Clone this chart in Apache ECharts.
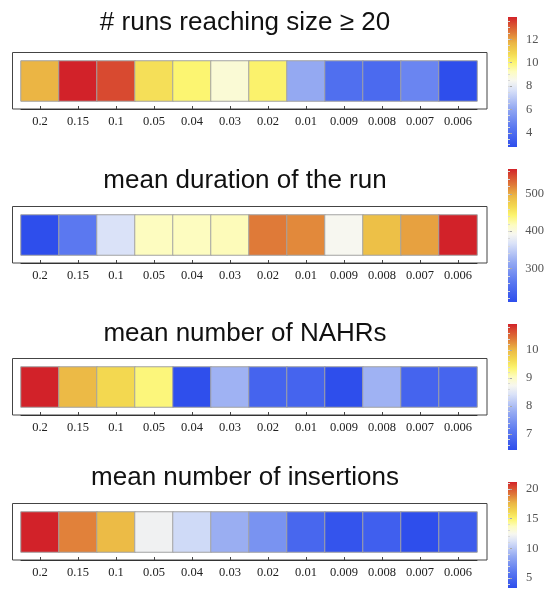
<!DOCTYPE html>
<html>
<head>
<meta charset="utf-8">
<script src="https://cdn.jsdelivr.net/npm/echarts@6/dist/echarts.min.js"></script>
<style>
  html, body { margin: 0; padding: 0; background: #fff; }
  #chart { width: 547px; height: 590px; }
</style>
</head>
<body>
<div id="chart"></div>
<script>
// Mutation-rate categories along the x axis
const categories = ['0.2', '0.15', '0.1', '0.05', '0.04', '0.03', '0.02', '0.01', '0.009', '0.008', '0.007', '0.006'];

// One row of values per panel
const runsReaching   = [11.7, 13.9, 13.35, 10.6, 10.0, 8.9, 10.1, 6.1, 4.1, 3.9, 4.9, 2.8];
const meanDuration   = [210, 264, 367, 417, 417, 419, 524, 517, 392, 488, 506, 567];
const meanNAHRs      = [10.93, 9.99, 9.67, 9.31, 6.45, 7.87, 6.79, 6.79, 6.43, 7.87, 6.79, 6.81];
const meanInsertions = [21.2, 18.9, 17.4, 12.1, 10.8, 8.85, 7.4, 4.9, 3.66, 4.4, 3.3, 4.2];

// Colour-bar tick labels
const ticksRuns       = [4, 6, 8, 10, 12];
const ticksDuration   = [300, 400, 500];
const ticksNAHRs      = [7, 8, 9, 10];
const ticksInsertions = [5, 10, 15, 20];

const titles = ['# runs reaching size \u2265 20', 'mean duration of the run', 'mean number of NAHRs', 'mean number of insertions'];

const panels = [
  { title: titles[0], values: runsReaching,   ticks: ticksRuns,       minorStep: 0.5 },
  { title: titles[1], values: meanDuration,   ticks: ticksDuration,   minorStep: 20 },
  { title: titles[2], values: meanNAHRs,      ticks: ticksNAHRs,      minorStep: 0.2 },
  { title: titles[3], values: meanInsertions, ticks: ticksInsertions, minorStep: 1 }
];

// Layout
const cellLeft = 21, cellWidth = 456, cellHeight = 40;
const cellTops = [61, 215, 367, 512];
const titleYs = [22, 180, 333, 477];
const barLeft = 508, barWidth = 9;
const barSpans = [[17, 147], [169, 302], [324, 450], [482, 588]];
const framePadTop = 8.5, framePadBottom = 8, framePadLeft = 8.5, framePadRight = 10;

// Blue-white-yellow-red temperature palette
const stops = [
  [0.00, [46, 78, 236]],
  [0.15, [90, 120, 240]],
  [0.30, [149, 170, 242]],
  [0.44, [218, 226, 248]],
  [0.51, [247, 247, 240]],
  [0.58, [253, 252, 192]],
  [0.65, [252, 245, 112]],
  [0.72, [243, 216, 80]],
  [0.80, [235, 182, 68]],
  [0.88, [223, 122, 56]],
  [0.95, [216, 74, 48]],
  [1.00, [210, 34, 41]]
];
const rgb = c => 'rgb(' + c.join(',') + ')';
function paletteAt(t) {
  for (let i = 1; i < stops.length; i++) {
    if (t <= stops[i][0]) {
      const a = stops[i - 1], b = stops[i];
      const f = (t - a[0]) / (b[0] - a[0]);
      return rgb(a[1].map((v, k) => Math.round(v + (b[1][k] - v) * f)));
    }
  }
  return rgb(stops[stops.length - 1][1]);
}
const palette = [];
for (let i = 0; i <= 100; i++) palette.push(paletteAt(i / 100));
const gradientStops = stops.map(s => ({ offset: s[0], color: rgb(s[1]) }));

const serif = '"Liberation Serif", "DejaVu Serif", serif';
const sans = '"Liberation Sans", Arial, sans-serif';

const grid = [], xAxis = [], yAxis = [], series = [], visualMap = [], graphic = [];

panels.forEach((p, i) => {
  const lo = Math.min(...p.values), hi = Math.max(...p.values);
  const top = cellTops[i];

  // Heatmap row
  grid.push({ left: cellLeft, top: top, width: cellWidth, height: cellHeight });
  const gHeat = grid.length - 1;
  xAxis.push({
    type: 'category', gridIndex: gHeat, data: categories, position: 'bottom',
    offset: framePadBottom,
    axisLine: { show: true, lineStyle: { color: '#222', width: 1 } },
    axisTick: { show: true, inside: true, length: 3, alignWithLabel: true, lineStyle: { color: '#444' } },
    axisLabel: { interval: 0, margin: 6, fontFamily: serif, fontSize: 12.5, color: '#222' },
    splitLine: { show: false }
  });
  yAxis.push({ type: 'category', gridIndex: gHeat, data: [''], show: false });
  series.push({
    type: 'heatmap', xAxisIndex: xAxis.length - 1, yAxisIndex: yAxis.length - 1,
    data: p.values.map((v, k) => [k, 0, v]),
    itemStyle: { borderColor: '#a3a3a3', borderWidth: 1 },
    emphasis: { disabled: true }
  });

  // Colour mapping for the row (the bar itself is drawn below)
  visualMap.push({
    type: 'continuous', seriesIndex: series.length - 1, dimension: 2,
    min: lo, max: hi, show: false, inRange: { color: palette }
  });

  // Colour-bar scale: major ticks with labels, then minor ticks in their own grid
  const barTop = barSpans[i][0], barH = barSpans[i][1] - barSpans[i][0];
  grid.push({ left: barLeft, top: barTop, width: barWidth, height: barH });
  xAxis.push({ type: 'value', gridIndex: grid.length - 1, show: false, min: 0, max: 1 });
  yAxis.push({
    type: 'value', gridIndex: grid.length - 1, position: 'right', min: lo, max: hi,
    axisLine: { show: false }, splitLine: { show: false },
    axisTick: { show: true, length: 4, customValues: p.ticks, lineStyle: { color: '#aaa' } },
    axisLabel: { show: true, customValues: p.ticks, margin: 9, fontFamily: serif, fontSize: 12.5, color: '#555' }
  });
  const minor = [];
  for (let v = Math.ceil(lo / p.minorStep) * p.minorStep; v <= hi; v += p.minorStep) minor.push(+v.toFixed(4));
  grid.push({ left: barLeft, top: barTop, width: barWidth, height: barH });
  xAxis.push({ type: 'value', gridIndex: grid.length - 1, show: false, min: 0, max: 1 });
  yAxis.push({
    type: 'value', gridIndex: grid.length - 1, position: 'right', min: lo, max: hi,
    axisLine: { show: false }, splitLine: { show: false },
    axisTick: { show: true, length: 2, customValues: minor, lineStyle: { color: '#d8d8d8' } },
    axisLabel: { show: false }
  });
  graphic.push({
    type: 'rect', silent: true, z: 0,
    shape: { x: barLeft, y: barTop, width: barWidth, height: barH },
    style: {
      fill: { type: 'linear', x: 0, y: 1, x2: 0, y2: 0, colorStops: gradientStops, global: false },
      stroke: null
    }
  });

  // Panel frame and title
  graphic.push({
    type: 'rect', silent: true, z: 1,
    shape: {
      x: cellLeft - framePadLeft, y: top - framePadTop,
      width: cellWidth + framePadLeft + framePadRight,
      height: cellHeight + framePadTop + framePadBottom
    },
    style: { fill: 'none', stroke: '#444', lineWidth: 1 }
  });
  graphic.push({
    type: 'text', silent: true, z: 2,
    x: cellLeft + cellWidth / 2 - 4, y: titleYs[i] + 1,
    style: { text: p.title, font: '26px ' + sans, fill: '#111', textAlign: 'center', textVerticalAlign: 'middle' }
  });
});

const chart = echarts.init(document.getElementById('chart'), null, { renderer: 'canvas' });
chart.setOption({
  animation: false,
  backgroundColor: '#fff',
  grid: grid, xAxis: xAxis, yAxis: yAxis, series: series,
  visualMap: visualMap, graphic: graphic
});
</script>
</body>
</html>
